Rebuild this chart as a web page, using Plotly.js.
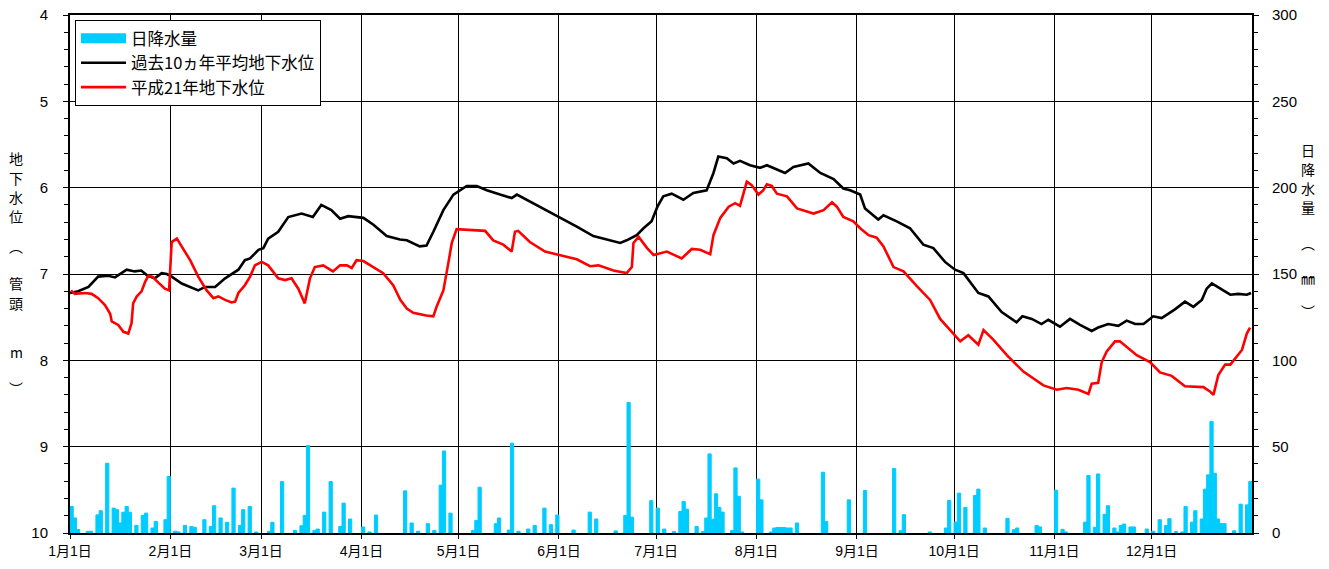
<!DOCTYPE html>
<html>
<head>
<meta charset="utf-8">
<script src="https://cdn.plot.ly/plotly-3.0.1.min.js"></script>
<style>html,body{margin:0;padding:0;background:#fff;}#chart{width:1329px;height:569px;}</style>
</head>
<body>
<div id="chart"></div>
<script>
// x values: days since Jan 1 (0 = 1月1日)
const monthStartDays = [0,31,59,90,120,151,181,212,243,273,304,334];
const monthLabels = ["1月1日","2月1日","3月1日","4月1日","5月1日","6月1日","7月1日","8月1日","9月1日","10月1日","11月1日","12月1日"];

// 過去10ヵ年平均地下水位 (管頭 m)
const avgDay = [0,2.5,5.7,8.7,11.8,13.9,17.5,20,22,24,26.2,28.3,29.9,31.4,34.5,39.6,41.7,44.8,47.9,52,54,55.6,58.2,59.7,61.2,64.3,67.4,71.5,75,77.6,80.7,83.4,85.9,90.6,93.7,97.8,101.9,104,108,110.1,112.2,115.3,118.4,122.5,125.6,128.7,132.8,136.4,138,141,145.2,151.3,156.5,161.6,166.8,169.9,171.9,175,177.1,179.6,181.4,183.2,185.8,189.4,192.5,196.6,198.7,200.2,202.8,204.9,206.9,210,213.1,215.2,218.3,220.8,223.4,228,231.7,235.8,238.8,240.9,244,245.5,249.6,251.2,255.3,259.4,263.5,266.6,270.2,273.3,275.9,280.5,283.6,287.7,292.3,294.1,297,300,302.1,305.7,308.8,311.9,315.5,317.5,320.6,323.7,326.3,328.9,331.5,334.5,337.1,341.2,344.3,346.9,349.5,351,352.6,355.7,358.3,360.8,363.4,364.7];
const avgLevel = [7.22,7.20,7.15,7.03,7.02,7.04,6.95,6.97,6.96,7.02,7.05,6.99,7.00,7.03,7.11,7.19,7.15,7.15,7.05,6.95,6.84,6.82,6.72,6.70,6.59,6.51,6.34,6.30,6.34,6.20,6.26,6.36,6.33,6.35,6.43,6.56,6.60,6.61,6.68,6.67,6.51,6.26,6.08,5.98,5.98,6.03,6.08,6.12,6.08,6.14,6.22,6.34,6.45,6.56,6.61,6.64,6.61,6.55,6.47,6.39,6.22,6.10,6.07,6.14,6.06,6.03,5.83,5.64,5.66,5.72,5.69,5.74,5.77,5.74,5.79,5.83,5.76,5.72,5.83,5.90,6.01,6.03,6.08,6.24,6.37,6.32,6.39,6.47,6.66,6.70,6.86,6.95,6.99,7.22,7.26,7.44,7.56,7.49,7.52,7.58,7.53,7.61,7.52,7.59,7.66,7.62,7.58,7.60,7.54,7.58,7.58,7.49,7.51,7.41,7.32,7.38,7.30,7.17,7.11,7.18,7.24,7.23,7.24,7.22];

// 平成21年地下水位 (管頭 m)
const h21Day = [0.3,1.5,4.6,6.7,8.7,10.8,12.4,12.9,14.9,16.5,18,19,19.5,20.6,22.1,23.2,24.2,25.4,27.3,29.3,30.6,31.4,33,34.5,37.1,39.6,42.2,44.3,45.8,47.9,49.9,51,52,54,55.6,57.1,59.2,61.2,64.3,66.4,68.4,70.5,72.5,74.1,75.6,78.2,81.2,83.4,85.5,87,88.5,90.6,93.7,96.7,99.8,102,104,106,110,112.2,113.2,115.3,116.8,117.9,119.4,125.6,128.2,130.7,133.8,136.4,137.4,138.4,142,146.7,151.3,156.5,160.6,163.2,167.8,171.9,173.5,174,175.6,178.2,180.2,184.3,188.9,192,194.6,197.7,198.7,200.8,203.4,205.4,206.9,207.9,209,210.5,212.6,214.1,215.2,216.7,218.3,221.4,224.5,229.6,232.7,235.3,236.8,238.8,241.9,244,246.6,249.1,251.2,254.3,257.4,261.5,265.6,268.7,274.9,277.4,280.5,282.1,285.1,289.3,294.4,300.6,304.7,307.8,311.4,314.5,315.5,317.5,318.6,320.1,322.7,324.2,329.4,333.5,336.6,340.2,344.3,350,352,353.1,354.6,356.7,358.3,361.9,363.4,364.4];
const h21Level = [7.19,7.23,7.22,7.23,7.28,7.36,7.46,7.55,7.59,7.67,7.69,7.57,7.34,7.26,7.20,7.09,7.02,7.03,7.10,7.17,7.19,6.63,6.59,6.68,6.84,7.03,7.19,7.28,7.26,7.30,7.33,7.32,7.22,7.13,7.03,6.90,6.86,6.90,7.05,7.07,7.05,7.17,7.34,7.05,6.92,6.90,6.97,6.90,6.90,6.93,6.84,6.85,6.92,6.99,7.13,7.30,7.40,7.45,7.48,7.49,7.38,7.19,6.88,6.64,6.48,6.49,6.50,6.61,6.66,6.74,6.51,6.50,6.63,6.74,6.78,6.83,6.91,6.90,6.96,6.99,6.92,6.64,6.57,6.70,6.78,6.74,6.82,6.71,6.72,6.77,6.55,6.35,6.22,6.18,6.21,6.07,5.93,5.97,6.08,6.03,5.96,5.98,6.07,6.10,6.24,6.30,6.26,6.17,6.22,6.34,6.39,6.47,6.55,6.58,6.68,6.92,6.97,7.14,7.30,7.52,7.78,7.71,7.82,7.65,7.76,7.94,8.13,8.29,8.34,8.32,8.34,8.39,8.27,8.26,8.02,7.90,7.78,7.78,7.94,8.02,8.14,8.18,8.30,8.31,8.36,8.40,8.17,8.05,8.05,7.88,7.69,7.62];

// 日降水量 (mm)
const rainDay = [0,1,2,5,6,8,9,11,13,14,15,16,17,18,20,22,23,25,26,29,30,32,33,35,37,38,41,43,44,46,48,50,52,53,55,57,61,62,65,69,71,72,73,75,76,78,80,83,84,86,90,92,94,103,105,107,110,112,114,115,117,124,125,126,131,132,135,136,138,141,143,146,148,150,155,160,162,168,171,172,173,179,181,183,186,188,189,190,193,195,196,197,198,199,200,201,204,205,206,207,212,213,216,217,218,219,220,221,222,224,232,233,240,245,254,256,257,265,270,271,273,274,276,279,280,282,289,291,292,298,299,304,306,307,313,314,316,317,319,320,322,323,324,325,327,328,332,334,336,338,339,341,343,344,346,347,349,350,351,352,353,354,355,356,359,361,363,364];
const rainMm = [15.4,8.7,2,1,1,10.5,12.9,40.4,14.4,13.5,5.8,12,15.4,12,4.4,10.2,11.5,2.9,6.7,7.7,32.7,1,0.6,4.4,3.8,3.3,7.7,3.8,15.8,8.7,6.2,26,4.4,13.5,15.4,0.6,1,6.2,29.8,1.5,4.2,10.2,50.6,1.5,2.3,12.1,29.8,3.8,17.3,8.1,3.5,0.6,10.4,24.4,5.8,1,5.4,1.5,27.7,47.5,11.5,1.5,7.3,26.5,5.4,8.7,1.7,52,1,2.3,4.4,14.4,4.8,10.4,1.7,12.1,8.1,1.2,10.2,75.6,9.2,18.7,14.4,2.3,0.8,12.5,18.3,13.8,3.8,0.8,8.7,45.8,8,22.7,14.8,12.1,1.5,37.7,21.3,0.6,31.2,19.2,0.6,2.9,3.2,3.2,3.2,2.9,2.9,5.8,35.2,6.7,19.2,24.6,37.3,1.3,10.6,0.6,2.9,18.8,6.3,23.1,14.8,21.7,25.4,2.9,8.5,1.9,2.9,4.4,3.5,24.8,2.1,0.6,6.3,33.3,3.3,34.2,10.8,15.8,2.9,0.6,4.4,5.2,3.5,3.5,2.3,1,7.7,4.4,8.3,0.8,0.6,15.4,6.3,12.9,8.1,25.4,33.7,64.6,34.6,8.1,5.4,5.4,1.3,16.7,16.3,29.8];

const FONT = '"Liberation Sans", Arial, "Noto Sans CJK JP", sans-serif';
const CJK = '"Noto Sans CJK JP", "Liberation Sans", sans-serif';
const RAIN_COLOR = '#00ccff';

const traces = [
  {type:'scatter', mode:'lines', x:avgDay, y:avgLevel, name:'過去10ヵ年平均地下水位',
   line:{color:'#000000', width:2.6}, yaxis:'y', legendrank:2},
  {type:'scatter', mode:'lines', x:h21Day, y:h21Level, name:'平成21年地下水位',
   line:{color:'#ff0000', width:2.6}, yaxis:'y', legendrank:3},
  {type:'bar', x:rainDay, y:rainMm, name:'日降水量', yaxis:'y2', width:1, offset:0,
   marker:{color:RAIN_COLOR, line:{color:RAIN_COLOR, width:1}}, showlegend:false},
  // legend key for the rainfall bars (wide swatch, as in the original legend)
  {type:'scatter', mode:'lines', x:[null], y:[null], name:'日降水量', yaxis:'y2',
   line:{color:RAIN_COLOR, width:10}, legendrank:1, hoverinfo:'skip'}
];

// plot area geometry (px)
const L = 70, R = 1252, T = 15, B = 533, W = 1329, H = 569;
function px2x(p){ return (p - L) / (R - L); }
function py2y(p){ return 1 - (p - T) / (B - T); }

const leftTitle = [['地',158],['下',178],['水',197],['位',216],['︵',246],['管',283],['頭',303],['m',352],['︶',388]];
const rightTitle = [['日',150],['降',169],['水',188],['量',207],['︵',243],['㎜',278],['︶',311]];
const annotations = [];
leftTitle.forEach(([c,p]) => annotations.push({text:c, xref:'paper', yref:'paper', x:px2x(16), y:py2y(p),
  showarrow:false, xanchor:'center', yanchor:'middle', font:{family:CJK, size:14, color:'#000'}}));
rightTitle.forEach(([c,p]) => annotations.push({text:c, xref:'paper', yref:'paper', x:px2x(1308), y:py2y(p),
  showarrow:false, xanchor:'center', yanchor:'middle', font:{family:CJK, size:14, color:'#000'}}));

const layout = {
  width:W, height:H,
  margin:{l:L, r:W-R, t:T, b:H-B, pad:0},
  paper_bgcolor:'#ffffff', plot_bgcolor:'#ffffff',
  font:{family:FONT, size:15, color:'#000'},
  showlegend:true,
  bargap:0,
  xaxis:{
    range:[0,365], tickmode:'array', tickvals:monthStartDays, ticktext:monthLabels,
    ticks:'outside', ticklen:4, tickcolor:'#000', tickwidth:1,
    showgrid:true, gridcolor:'#000', gridwidth:1,
    showline:true, linecolor:'#000', linewidth:2, mirror:true,
    zeroline:false, tickfont:{family:FONT, size:14}, fixedrange:true
  },
  yaxis:{
    range:[10,4], tick0:4, dtick:1,
    ticks:'outside', ticklen:5, tickcolor:'#000',
    minor:{dtick:0.2, ticks:'outside', ticklen:4, tickcolor:'#000', showgrid:false},
    showgrid:true, gridcolor:'#000', gridwidth:1,
    showline:true, linecolor:'#000', linewidth:2,
    zeroline:false, ticklabelstandoff:12, tickfont:{family:FONT, size:15}
  },
  yaxis2:{
    overlaying:'y', side:'right', range:[0,300], tick0:0, dtick:50,
    ticks:'outside', ticklen:5, tickcolor:'#000',
    minor:{dtick:10, ticks:'outside', ticklen:4, tickcolor:'#000', showgrid:false},
    showgrid:false, showline:true, linecolor:'#000', linewidth:2,
    zeroline:false, ticklabelstandoff:10, tickfont:{family:FONT, size:15}
  },
  legend:{
    x:px2x(75), y:py2y(20), xanchor:'left', yanchor:'top',
    bgcolor:'#ffffff', bordercolor:'#000', borderwidth:1,
    font:{family:CJK, size:16.5, color:'#000'}, itemwidth:45, tracegroupgap:0,
    traceorder:'normal'
  },
  annotations:annotations
};

Plotly.newPlot('chart', traces, layout, {staticPlot:true, displayModeBar:false});
</script>
</body>
</html>
